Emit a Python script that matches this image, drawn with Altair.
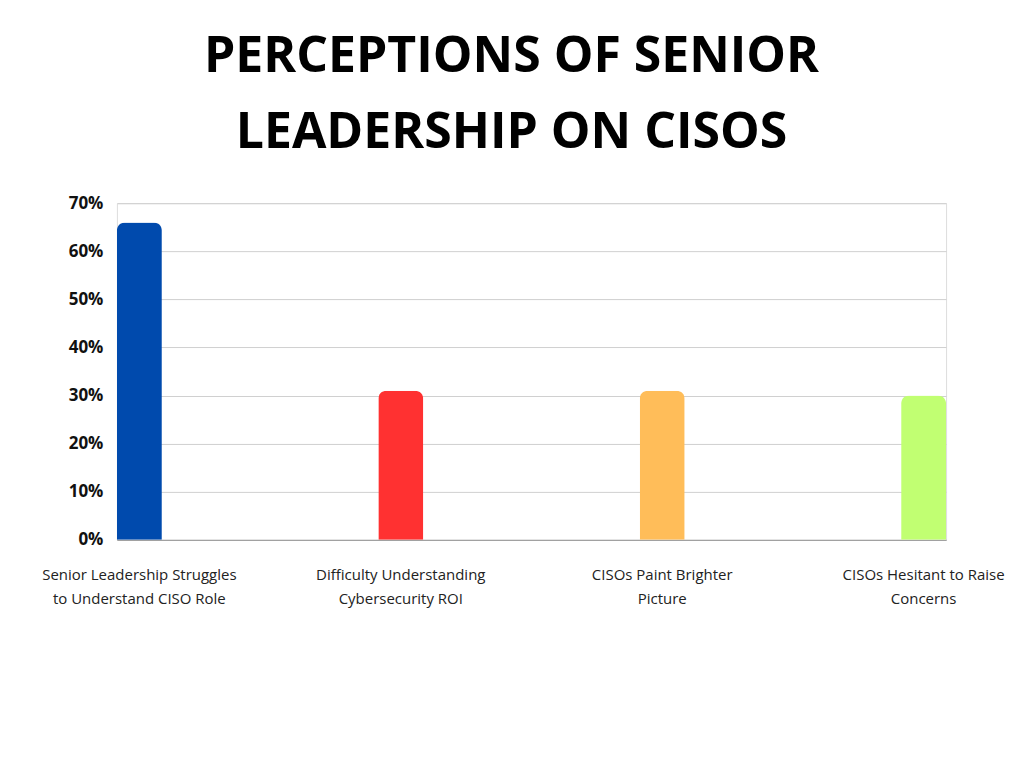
import altair as alt
import pandas as pd

categories = [
    "Senior Leadership Struggles|to Understand CISO Role",
    "Difficulty Understanding|Cybersecurity ROI",
    "CISOs Paint Brighter|Picture",
    "CISOs Hesitant to Raise|Concerns",
]
values = [0.66, 0.31, 0.31, 0.30]
colors = ["#004AAD", "#FF3131", "#FFBD59", "#C1FF72"]

df = pd.DataFrame({"category": categories, "value": values})

chart = (
    alt.Chart(df)
    .mark_bar(cornerRadiusTopLeft=8, cornerRadiusTopRight=8)
    .encode(
        x=alt.X(
            "category:N",
            sort=None,
            title=None,
            scale=alt.Scale(paddingInner=0.828, paddingOuter=0),
            axis=alt.Axis(
                labelExpr="split(datum.label, '|')",
                labelAngle=0,
                labelFont="Open Sans",
                labelFontSize=15,
                labelColor="#222",
                labelPadding=28,
                labelLineHeight=24,
                labelLimit=300,
                ticks=False,
                grid=False,
                domainColor="#999",
            ),
        ),
        y=alt.Y(
            "value:Q",
            title=None,
            scale=alt.Scale(domain=[0, 0.7]),
            axis=alt.Axis(
                format=".0%",
                values=[0, 0.1, 0.2, 0.3, 0.4, 0.5, 0.6, 0.7],
                labelFont="Open Sans",
                labelFontWeight="bold",
                labelFontSize=17,
                labelColor="#111",
                labelPadding=14,
                ticks=False,
                domain=False,
                gridColor="#d0d0d0",
            ),
        ),
        color=alt.Color(
            "category:N", sort=None, scale=alt.Scale(domain=categories, range=colors), legend=None
        ),
    )
    .properties(
        width=830,
        height=337,
        autosize=alt.AutoSizeParams(type="none"),
        padding={"left": 109, "top": 195, "right": 70, "bottom": 220},
        title=alt.Title(
            ["PERCEPTIONS OF SENIOR", "LEADERSHIP ON CISOS"],
            font="Open Sans",
            fontSize=50,
            fontWeight="bold",
            color="#000",
            lineHeight=76,
            anchor="middle",
            dx=-20,
            offset=36,
        ),
    )
    .configure_view(stroke=None, strokeWidth=0)
    .configure(background="white")
)

chart.save("out.html", embed_options={"renderer": "svg", "actions": False})
